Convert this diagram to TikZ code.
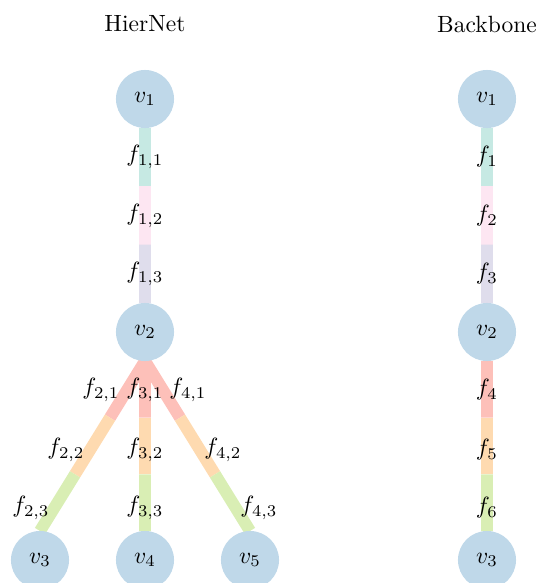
\documentclass[tikz,border=0pt]{standalone}
\usetikzlibrary{calc}
\definecolor{cteal}{HTML}{8DD3C7}
\definecolor{cpink}{HTML}{FCCDE5}
\definecolor{clav}{HTML}{BEBADA}
\definecolor{cred}{HTML}{FB8072}
\definecolor{corange}{HTML}{FDB462}
\definecolor{cgreen}{HTML}{B3DE69}
\definecolor{cblue}{HTML}{80B1D3}
\tikzset{
  vnode/.style={circle, fill=cblue!50!white, minimum size=24.7pt, inner sep=0pt},
  seg/.style={line width=5.1pt},
  flabel/.style={inner sep=0pt},
  title/.style={inner sep=0pt}
}
\begin{document}
\begin{tikzpicture}[x=0.01496cm, y=-0.01496cm]
\useasboundingbox (0,0) rectangle (538,583);
% titles
\node[title] (t1) at (145,24) {HierNet};
\node[title] (t2) at (487,24) {Backbone};
% HierNet node positions
\coordinate (A1) at (145,99);
\coordinate (A2) at (145,332);
\coordinate (A3) at (40,560);
\coordinate (A4) at (145,560);
\coordinate (A5) at (250,560);
% Backbone node positions
\coordinate (B1) at (487,99);
\coordinate (B2) at (487,332);
\coordinate (B3) at (487,560);
% south / north points and thirds
\foreach \p/\q/\n in {A1/A2/a, A2/A3/b, A2/A4/c, A2/A5/d, B1/B2/e, B2/B3/f}{
  \coordinate (\n0) at ($(\p)+(0,29)$);
  \coordinate (\n3) at ($(\q)+(0,-29)$);
  \coordinate (\n1) at ($(\n0)!1/3!(\n3)$);
  \coordinate (\n2) at ($(\n0)!2/3!(\n3)$);
}
% segments
\foreach \n/\ca/\cb/\cc in {a/cteal/cpink/clav, b/cred/corange/cgreen, c/cred/corange/cgreen, d/cred/corange/cgreen, e/cteal/cpink/clav, f/cred/corange/cgreen}{
  \draw[seg, \ca!50!white] (\n0) -- (\n1);
  \draw[seg, \cb!50!white] (\n1) -- (\n2);
  \draw[seg, \cc!50!white] (\n2) -- (\n3);
}
% nodes
\node[vnode] (v1) at (A1) {$v_1$};
\node[vnode] (v2) at (A2) {$v_2$};
\node[vnode] (v3) at (A3) {$v_3$};
\node[vnode] (v4) at (A4) {$v_4$};
\node[vnode] (v5) at (A5) {$v_5$};
\node[vnode] (w1) at (B1) {$v_1$};
\node[vnode] (w2) at (B2) {$v_2$};
\node[vnode] (w3) at (B3) {$v_3$};
% HierNet labels
\node[flabel] (l11) at (145,157) {$f_{1,1}$};
\node[flabel] (l12) at (145,216) {$f_{1,2}$};
\node[flabel] (l13) at (145,274) {$f_{1,3}$};
\node[flabel] (l21) at (101,390) {$f_{2,1}$};
\node[flabel] (l22) at (66,450) {$f_{2,2}$};
\node[flabel] (l23) at (31,508) {$f_{2,3}$};
\node[flabel] (l31) at (145,390) {$f_{3,1}$};
\node[flabel] (l32) at (145,450) {$f_{3,2}$};
\node[flabel] (l33) at (145,508) {$f_{3,3}$};
\node[flabel] (l41) at (188,390) {$f_{4,1}$};
\node[flabel] (l42) at (223,450) {$f_{4,2}$};
\node[flabel] (l43) at (259,508) {$f_{4,3}$};
% Backbone labels
\node[flabel] (m1) at (487,157) {$f_1$};
\node[flabel] (m2) at (487,216) {$f_2$};
\node[flabel] (m3) at (487,274) {$f_3$};
\node[flabel] (m4) at (487,390) {$f_4$};
\node[flabel] (m5) at (487,450) {$f_5$};
\node[flabel] (m6) at (487,508) {$f_6$};
\end{tikzpicture}
\end{document}
